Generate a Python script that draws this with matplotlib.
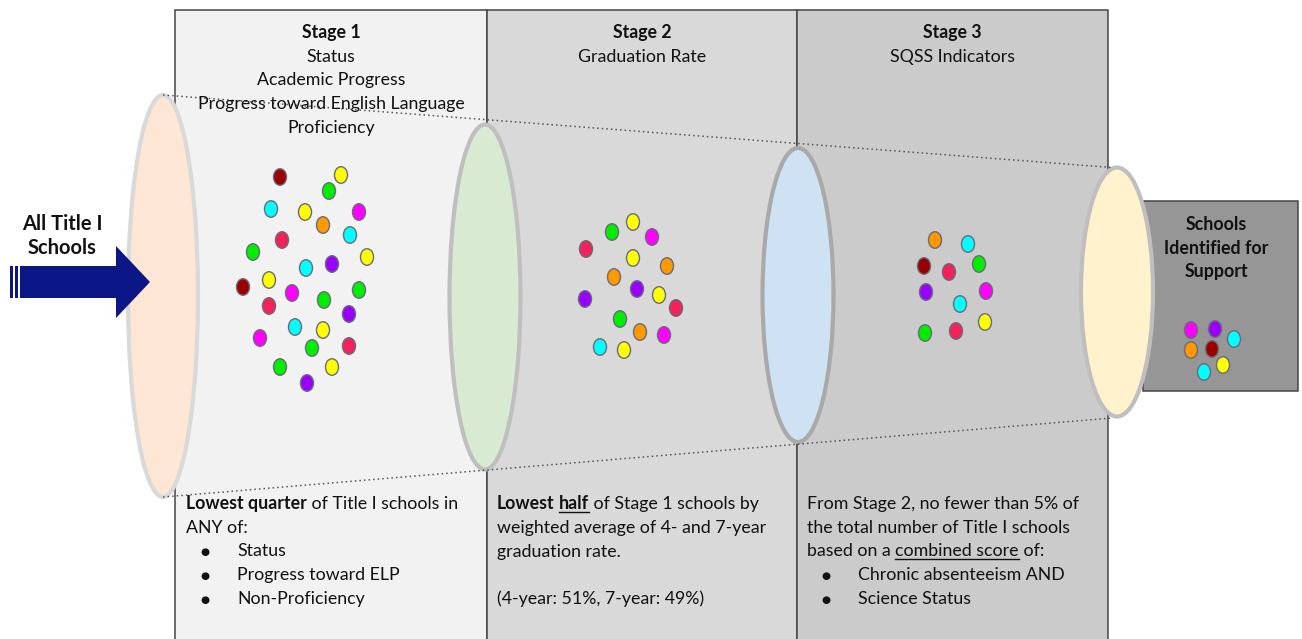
import matplotlib
matplotlib.use('Agg')
import matplotlib.pyplot as plt
from matplotlib.patches import Rectangle, Ellipse, Polygon

# ---------------- data ----------------
stage_titles = ["Stage 1", "Stage 2", "Stage 3"]
stage_subtitles = [
    ["Status", "Academic Progress", "Progress toward English Language", "Proficiency"],
    ["Graduation Rate"],
    ["SQSS Indicators"],
]
arrow_label = ["All Title I", "Schools"]
final_label = ["Schools", "Identified for", "Support"]

# bottom descriptions: each line is a list of (text, bold, underline); bullets separate
stage1_desc = [[("Lowest quarter", True, False), (" of Title I schools in", False, False)],
               [("ANY of:", False, False)]]
stage1_bullets = ["Status", "Progress toward ELP", "Non-Proficiency"]
stage2_desc = [[("Lowest", True, False), (" ", True, False), ("half", True, True),
                (" of Stage 1 schools by", False, False)],
               [("weighted average of 4- and 7-year", False, False)],
               [("graduation rate.", False, False)],
               [],
               [("(4-year: 51%, 7-year: 49%)", False, False)]]
stage2_bullets = []
stage3_desc = [[("From Stage 2, no fewer than 5% of", False, False)],
               [("the total number of Title I schools", False, False)],
               [("based on a ", False, False), ("combined score", False, True), (" of:", False, False)]]
stage3_bullets = ["Chronic absenteeism AND", "Science Status"]

colors = {'dr': '#990000', 'y': '#ffff00', 'g': '#00ee00', 'c': '#00ffff',
          'm': '#ff00ff', 'o': '#ff9900', 'r': '#f5215a', 'p': '#9900ff'}

s1_x = [280, 341, 329, 271, 305, 359, 323, 282, 350, 253, 367, 306, 332, 269,
        243, 292, 359, 269, 324, 349, 295, 323, 260, 312, 349, 280, 332, 307]
s1_y = [177, 175, 191, 209, 212, 212, 225, 240, 235, 252, 257, 268, 264, 280,
        287, 293, 290, 306, 300, 314, 327, 330, 338, 348, 346, 367, 367, 383]
s1_c = ['dr', 'y', 'g', 'c', 'y', 'm', 'o', 'r', 'c', 'g', 'y', 'c', 'p', 'y',
        'dr', 'm', 'g', 'r', 'g', 'p', 'c', 'y', 'm', 'g', 'r', 'g', 'y', 'p']

s2_x = [633, 612, 652, 586, 633, 667, 614, 637, 659, 585, 676, 620, 640, 664, 600, 624]
s2_y = [222, 232, 237, 249, 258, 266, 277, 289, 295, 299, 308, 319, 332, 335, 347, 350]
s2_c = ['y', 'g', 'm', 'r', 'y', 'o', 'o', 'p', 'y', 'p', 'r', 'g', 'o', 'm', 'c', 'y']

s3_x = [935, 968, 924, 949, 979, 926, 986, 960, 985, 925, 956]
s3_y = [240, 244, 266, 272, 264, 292, 291, 304, 322, 333, 331]
s3_c = ['o', 'c', 'dr', 'r', 'g', 'p', 'm', 'c', 'y', 'g', 'r']

f_x = [1191, 1215, 1234, 1191, 1212, 1223, 1204]
f_y = [330, 329, 339, 350, 349, 365, 372]
f_c = ['m', 'p', 'c', 'o', 'dr', 'y', 'c']

# ---------------- figure ----------------
W, H = 1302, 639
fig = plt.figure(figsize=(W / 100, H / 100), dpi=100)
ax = fig.add_axes([0, 0, 1, 1])
ax.set_xlim(0, W)
ax.set_ylim(H, 0)
ax.axis('off')
fig.patch.set_facecolor('white')
renderer = fig.canvas.get_renderer()

FONT = ['Lato', 'DejaVu Sans']
FS = 12.8
EDGE = '#454545'

# stage panels
panel_x = [175, 487, 797, 1108]
panel_fill = ['#f2f2f2', '#d9d9d9', '#cbcbcb']
for i in range(3):
    ax.add_patch(Rectangle((panel_x[i], 10), panel_x[i + 1] - panel_x[i], 700,
                           facecolor=panel_fill[i], edgecolor=EDGE, lw=1.1, zorder=1))

# final box
ax.add_patch(Rectangle((1143, 201), 155, 190, facecolor='#969696',
                       edgecolor=EDGE, lw=1.1, zorder=1))

# dotted funnel lines
ax.plot([163, 1112], [95, 167.5], ls=(0, (1, 2)), color='#555555', lw=1.1, zorder=4)
ax.plot([163, 1112], [497, 418], ls=(0, (1, 2)), color='#555555', lw=1.1, zorder=4)

# cylinder cross-sections
ell = [((163, 296), 70, 402, '#fde6d3', '#d9d9d9'),
       ((485, 297), 71, 345, '#d9ead3', '#bfbfbf'),
       ((798, 295), 71, 294, '#cfe2f3', '#a9a9a9'),
       ((1117, 292), 72, 249, '#fff2cc', '#bfbfbf')]
for c, w, h, fc, ec in ell:
    ax.add_patch(Ellipse(c, w, h, facecolor=fc, edgecolor=ec, lw=3.0, zorder=3))

# dots
for xs, ys, cs in [(s1_x, s1_y, s1_c), (s2_x, s2_y, s2_c), (s3_x, s3_y, s3_c), (f_x, f_y, f_c)]:
    for x, y, c in zip(xs, ys, cs):
        ax.add_patch(Ellipse((x, y), 13, 16.5, facecolor=colors[c],
                             edgecolor='#6a6a78', lw=1.0, zorder=5))

# arrow
NAVY = '#0b1687'
ax.add_patch(Rectangle((10, 266), 2.5, 32, facecolor=NAVY, edgecolor='none', zorder=6))
ax.add_patch(Rectangle((15, 266), 2.5, 32, facecolor=NAVY, edgecolor='none', zorder=6))
ax.add_patch(Polygon([(20, 266), (116, 266), (116, 246), (150, 282), (116, 318),
                      (116, 298), (20, 298)], closed=True, facecolor=NAVY,
                     edgecolor='none', zorder=6))
for k, t in enumerate(arrow_label):
    ax.text(62, 230 + 24 * k, t, ha='center', va='baseline', fontsize=14.5,
            fontweight='bold', family=FONT, color='#111111', zorder=7)

# headers
centers = [(panel_x[i] + panel_x[i + 1]) / 2 for i in range(3)]
for i in range(3):
    ax.text(centers[i], 38, stage_titles[i], ha='center', va='baseline', fontsize=FS,
            fontweight='bold', family=FONT, color='#111111', zorder=7)
    for k, t in enumerate(stage_subtitles[i]):
        ax.text(centers[i], 62 + 23.5 * k, t, ha='center', va='baseline', fontsize=FS,
                family=FONT, color='#111111', zorder=7)

# final label
for k, t in enumerate(final_label):
    ax.text(1216, 230 + 23.7 * k, t, ha='center', va='baseline', fontsize=FS,
            fontweight='bold', family=FONT, color='#111111', zorder=7)


def seg_width(s, bold):
    kw = dict(fontsize=FS, family=FONT, fontweight='bold' if bold else 'normal')
    t1 = ax.text(0, 0, 'x' + s + 'x', **kw)
    t2 = ax.text(0, 0, 'xx', **kw)
    w = t1.get_window_extent(renderer).width - t2.get_window_extent(renderer).width
    t1.remove()
    t2.remove()
    return w


def rich_line(x, y, segs):
    for s, bold, ul in segs:
        w = seg_width(s, bold)
        ax.text(x, y, s, ha='left', va='baseline', fontsize=FS, family=FONT,
                fontweight='bold' if bold else 'normal', color='#111111', zorder=7)
        if ul:
            ax.plot([x, x + w], [y + 2.5, y + 2.5], color='#111111', lw=1.0, zorder=7)
        x += w


LS = 23.75
for x0, desc, bullets in [(186, stage1_desc, stage1_bullets),
                          (497, stage2_desc, stage2_bullets),
                          (807, stage3_desc, stage3_bullets)]:
    y = 509
    for line in desc:
        rich_line(x0, y, line)
        y += LS
    for b in bullets:
        ax.text(x0 + 19, y - 4, '\u25cf', ha='center', va='center', fontsize=7.5,
                family=['DejaVu Sans'], color='#111111', zorder=7)
        ax.text(x0 + 51, y, b, ha='left', va='baseline', fontsize=FS, family=FONT,
                color='#111111', zorder=7)
        y += LS

fig.savefig('out.png', dpi=100, facecolor='white')
